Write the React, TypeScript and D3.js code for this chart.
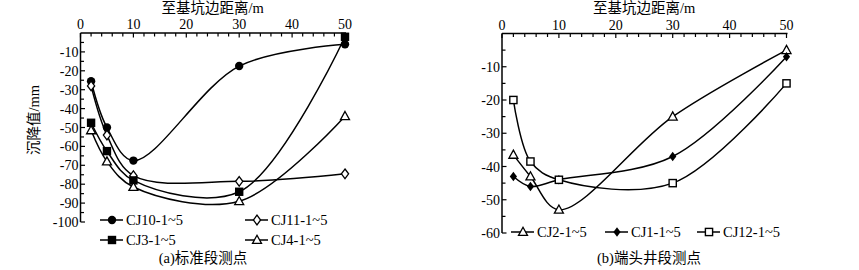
import React from 'react';
import * as d3 from 'd3';

// distance to pit edge (m)
const distances = [2, 5, 10, 30, 50];

// (a) standard section
const cj10 = [-25.5, -50, -67.5, -17.5, -6];
const cj11 = [-28, -54, -75.5, -78.5, -74.5];
const cj3 = [-47.5, -62.5, -78, -84, -2];
const cj4 = [-51.5, -68, -81.5, -89, -44];

// (b) end well section
const cj2 = [-36.5, -43, -53, -25, -5];
const cj1 = [-43, -46, -44, -37, -7];
const cj12 = [-20, -38.5, -44, -45, -15];

const xTicks = [0, 10, 20, 30, 40, 50];
const yTicksA = [-10, -20, -30, -40, -50, -60, -70, -80, -90, -100];
const yTicksB = [-10, -20, -30, -40, -50, -60];

const FONT = "'Liberation Serif', 'Times New Roman', 'Noto Sans CJK SC', serif";

type MarkerKind = 'circle' | 'diamondOpen' | 'diamondFilled' | 'square' | 'squareOpen' | 'triangleOpen';

const Marker = ({ kind, x, y }: { kind: MarkerKind; x: number; y: number }) => {
  const r = 4.2;
  if (kind === 'circle') return <circle cx={x} cy={y} r={r} fill="#000" />;
  if (kind === 'square') return <rect x={x - r} y={y - r} width={2 * r} height={2 * r} fill="#000" />;
  if (kind === 'squareOpen')
    return <rect x={x - r + 0.6} y={y - r + 0.6} width={2 * r - 1.2} height={2 * r - 1.2} fill="#fff" stroke="#000" strokeWidth={1.4} />;
  if (kind === 'diamondOpen' || kind === 'diamondFilled') {
    const d = `M${x},${y - r - 0.6}L${x + r - 0.6},${y}L${x},${y + r + 0.6}L${x - r + 0.6},${y}Z`;
    return kind === 'diamondFilled'
      ? <path d={d} fill="#000" />
      : <path d={d} fill="#fff" stroke="#000" strokeWidth={1.3} />;
  }
  const d = `M${x},${y - r - 0.5}L${x + r + 0.3},${y + r - 0.8}L${x - r - 0.3},${y + r - 0.8}Z`;
  return <path d={d} fill="#fff" stroke="#000" strokeWidth={1.3} />;
};

type Series = { name: string; values: number[]; kind: MarkerKind };

const Panel = ({
  x0, x1, y0, y1, yMin, yTicks, series, legend, caption, captionX, yLabel,
}: {
  x0: number; x1: number; y0: number; y1: number; yMin: number; yTicks: number[];
  series: Series[]; legend: { x: number; y: number }[]; caption: string; captionX: number; yLabel?: string;
}) => {
  const xs = d3.scaleLinear().domain([0, 50]).range([x0, x1]);
  const ys = d3.scaleLinear().domain([0, yMin]).range([y0, y1]);
  const line = d3.line<number>()
    .x((_, i) => xs(distances[i]))
    .y((d) => ys(d))
    .curve(d3.curveCatmullRom.alpha(0.5));
  const minorX = d3.range(0, 51, 2);
  const minorY = d3.range(-5, yMin - 1, -5);
  const mid = (x0 + x1) / 2;
  return (
    <g fontFamily={FONT} fill="#000">
      <text x={mid} y={13} fontSize={14.5} textAnchor="middle">至基坑边距离/m</text>
      {yLabel && (
        <text transform={`translate(39,120) rotate(-90)`} fontSize={14.5} textAnchor="middle">{yLabel}</text>
      )}
      {/* top axis */}
      <line x1={x0} x2={x1 + 1} y1={y0} y2={y0} stroke="#000" strokeWidth={1.5} />
      {minorX.map((t) => (
        <line key={'mx' + t} x1={xs(t)} x2={xs(t)} y1={y0} y2={y0 + (t % 10 === 0 ? 4.5 : 3.5)} stroke="#000" strokeWidth={1.2} />
      ))}
      {xTicks.map((t) => (
        <text key={'xt' + t} x={xs(t)} y={y0 - 4} fontSize={14} textAnchor="middle">{t}</text>
      ))}
      {/* left axis */}
      <line x1={x0} x2={x0} y1={y0} y2={y1} stroke="#000" strokeWidth={1.5} />
      {minorY.map((t) => (
        <line key={'my' + t} x1={x0} x2={x0 + (t % 10 === 0 ? 4.5 : 3.5)} y1={ys(t)} y2={ys(t)} stroke="#000" strokeWidth={1.2} />
      ))}
      {yTicks.map((t) => (
        <text key={'yt' + t} x={x0 - 2} y={ys(t) + 5} fontSize={14} textAnchor="end">{t}</text>
      ))}
      {series.map((s) => (
        <path key={s.name} d={line(s.values) || ''} fill="none" stroke="#000" strokeWidth={1.5} />
      ))}
      {series.map((s) =>
        s.values.map((v, i) => <Marker key={s.name + i} kind={s.kind} x={xs(distances[i])} y={ys(v)} />),
      )}
      {series.map((s, i) => (
        <g key={'lg' + s.name}>
          <line x1={legend[i].x} x2={legend[i].x + 23} y1={legend[i].y} y2={legend[i].y} stroke="#000" strokeWidth={1.5} />
          <Marker kind={s.kind} x={legend[i].x + 12} y={legend[i].y} />
          <text x={legend[i].x + 26} y={legend[i].y + 5} fontSize={14.5}>{s.name}</text>
        </g>
      ))}
      <text x={captionX} y={263} fontSize={14.5} textAnchor="middle">{caption}</text>
    </g>
  );
};

export default function App() {
  return (
    <svg width={859} height={270} style={{ position: 'absolute', left: 0, top: 0, background: '#fff' }}>
      <rect width={859} height={270} fill="#fff" />
      <Panel
        x0={80.5} x1={345} y0={33} y1={222} yMin={-100} yTicks={yTicksA}
        series={[
          { name: 'CJ10-1~5', values: cj10, kind: 'circle' },
          { name: 'CJ11-1~5', values: cj11, kind: 'diamondOpen' },
          { name: 'CJ3-1~5', values: cj3, kind: 'square' },
          { name: 'CJ4-1~5', values: cj4, kind: 'triangleOpen' },
        ]}
        legend={[{ x: 100, y: 220 }, { x: 245, y: 220 }, { x: 100, y: 240 }, { x: 245, y: 240 }]}
        caption="(a)标准段测点" captionX={203} yLabel="沉降值/mm"
      />
      <Panel
        x0={502} x1={786.5} y0={33.5} y1={233} yMin={-60} yTicks={yTicksB}
        series={[
          { name: 'CJ2-1~5', values: cj2, kind: 'triangleOpen' },
          { name: 'CJ1-1~5', values: cj1, kind: 'diamondFilled' },
          { name: 'CJ12-1~5', values: cj12, kind: 'squareOpen' },
        ]}
        legend={[{ x: 511, y: 232 }, { x: 605, y: 232 }, { x: 697, y: 232 }]}
        caption="(b)端头井段测点" captionX={649}
      />
    </svg>
  );
}
